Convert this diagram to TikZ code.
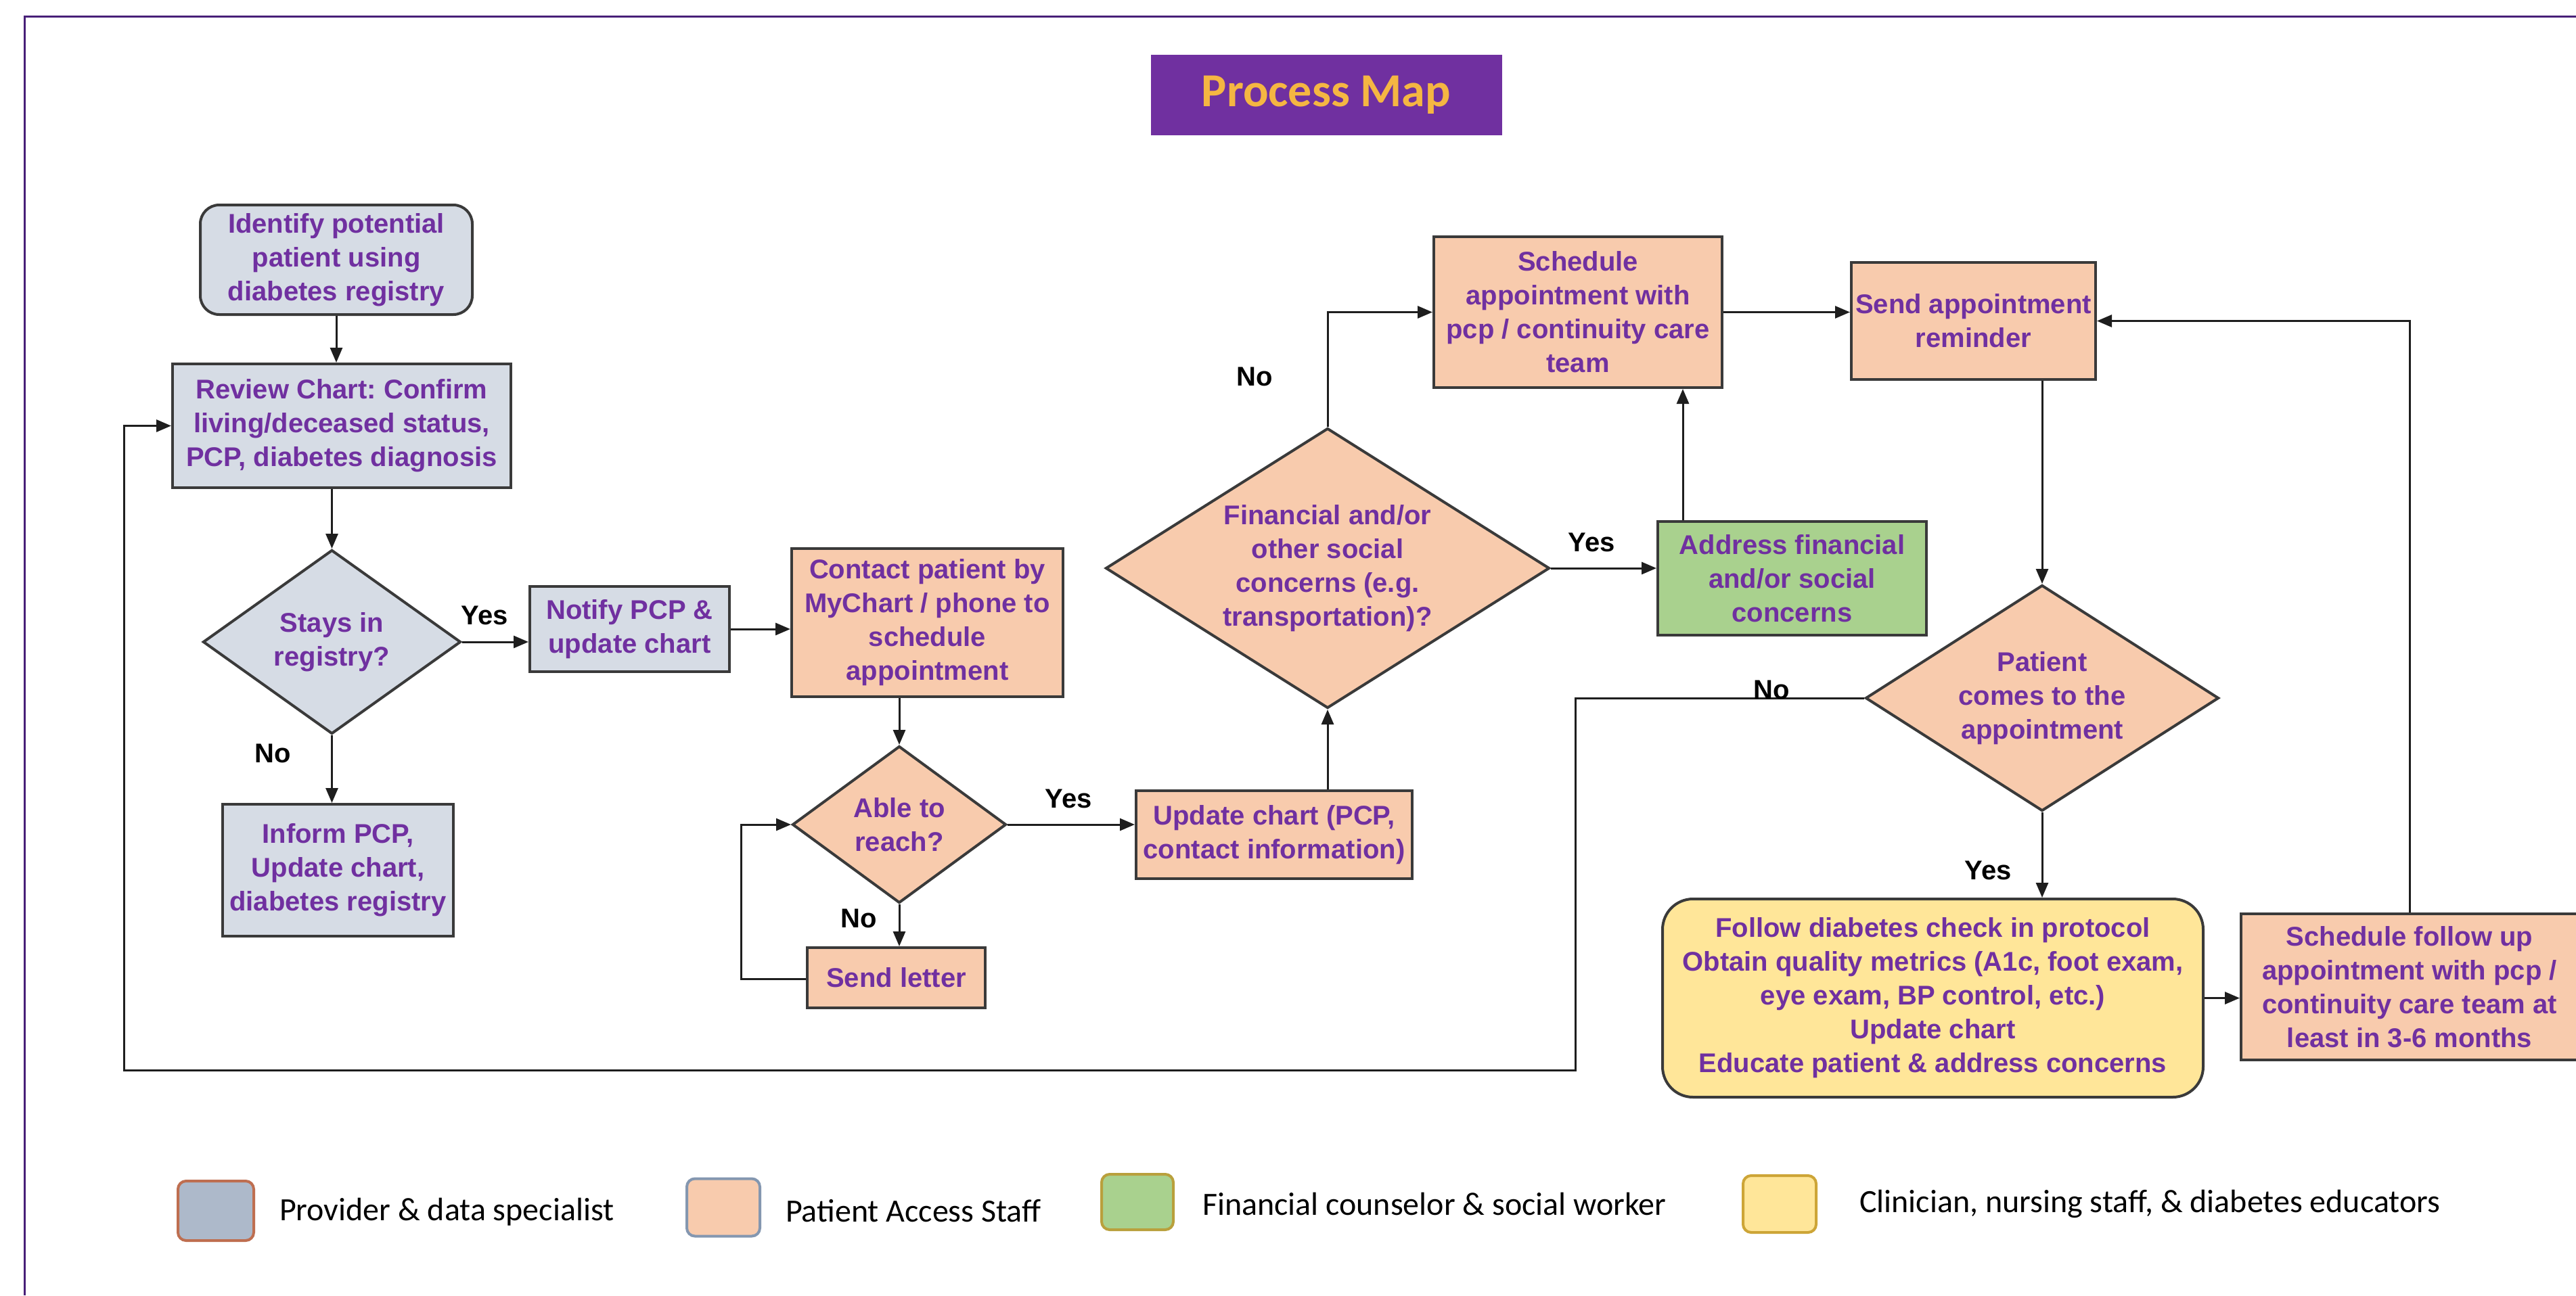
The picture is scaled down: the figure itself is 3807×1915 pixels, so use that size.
\documentclass[tikz,border=0pt]{standalone}
\usepackage{fontspec}
\setmainfont{Liberation Sans}
\newfontfamily\calib{Carlito}
\usetikzlibrary{shapes.geometric,arrows.meta}
\definecolor{txtpurple}{RGB}{112,48,160}
\definecolor{grayfill}{RGB}{214,220,229}
\definecolor{peach}{RGB}{248,203,173}
\definecolor{greenfill}{RGB}{169,209,142}
\definecolor{yellowfill}{RGB}{255,230,153}
\definecolor{bordc}{RGB}{58,58,58}
\definecolor{linec}{RGB}{30,30,30}
\definecolor{titlepurple}{RGB}{112,48,160}
\definecolor{titlegold}{RGB}{245,182,66}
\definecolor{framec}{RGB}{72,32,120}
\definecolor{lg1fill}{RGB}{173,185,202}
\definecolor{lg1draw}{RGB}{190,110,80}
\definecolor{lg2draw}{RGB}{132,151,176}
\definecolor{lg3draw}{RGB}{185,160,60}
\definecolor{lg4draw}{RGB}{205,165,55}
\frenchspacing
\begin{document}
\begin{tikzpicture}[x=1pt,y=-1pt,
  every node/.style={inner sep=0pt, outer sep=0pt},
  mainfont/.style={font=\fontsize{40}{50}\selectfont\bfseries},
  box/.style={mainfont, draw=bordc, line width=4pt, rectangle, align=center, text=txtpurple, outer sep=2pt},
  gbox/.style={box, fill=grayfill},
  pbox/.style={box, fill=peach},
  gnbox/.style={box, fill=greenfill},
  ybox/.style={box, fill=yellowfill, rounded corners=45pt},
  dia/.style={diamond, draw=bordc, line width=4pt, inner sep=0pt, outer sep=2pt},
  dtext/.style={mainfont, text=txtpurple, align=center},
  lab/.style={mainfont, text=black},
  arr/.style={draw=linec, line width=3pt, -{Triangle[length=22pt,width=18pt]}},
  swatch/.style={rounded corners=12pt, line width=4pt},
  legtext/.style={font=\calib\fontsize{48}{56}\selectfont, text=black, anchor=west}
]
\useasboundingbox (0,0) rectangle (3807,1915);
\fill[white] (0,0) rectangle (3807,1915);
% frame
\draw[framec, line width=3pt] (36,1915) -- (36,24) -- (3807,24);

% title
\node[fill=titlepurple, minimum width=519pt, minimum height=119pt, font=\calib\bfseries\fontsize{70}{80}\selectfont, text=titlegold] (title) at (1960,140) {Process Map};

% nodes
\node[gbox, fill=grayfill, rounded corners=28pt, minimum width=402pt, minimum height=162pt] (ident) at (497,384) {Identify potential\\patient using\\diabetes registry};
\node[gbox, minimum width=500pt, minimum height=183pt] (review) at (505,629.5) {Review Chart: Confirm\\living/deceased status,\\PCP, diabetes diagnosis};
\node[dia, fill=grayfill, minimum width=381pt, minimum height=272pt] (stays) at (490.5,949) {};
\node[dtext] (stays-t) at (stays) {Stays in\\registry?};
\node[gbox, minimum width=295pt, minimum height=126pt] (notify) at (930.5,930) {Notify PCP \&\\update chart};
\node[gbox, minimum width=341pt, minimum height=195pt] (inform) at (499.5,1286.5) {Inform PCP,\\Update chart,\\diabetes registry};
\node[pbox, minimum width=401pt, minimum height=219pt] (contact) at (1370.5,920.5) {Contact patient by\\MyChart / phone to\\schedule\\appointment};
\node[dia, fill=peach, minimum width=316pt, minimum height=232pt] (able) at (1329,1219) {};
\node[dtext] (able-t) at (able) {Able to\\reach?};
\node[pbox, minimum width=263pt, minimum height=89pt] (letter) at (1324.5,1445.5) {Send letter};
\node[pbox, minimum width=408pt, minimum height=130pt] (update) at (1883,1234) {Update chart (PCP,\\contact information)};
\node[dia, fill=peach, minimum width=656pt, minimum height=414pt] (fin) at (1962,840) {};
\node[dtext] (fin-t) at (fin) {Financial and/or\\other social\\concerns (e.g.\\transportation)?};
\node[pbox, minimum width=426pt, minimum height=223pt] (sched) at (2332,461.5) {Schedule\\appointment with\\pcp / continuity care\\team};
\node[gnbox, minimum width=397pt, minimum height=168pt] (addr) at (2648.5,855) {Address financial\\and/or social\\concerns};
\node[pbox, minimum width=361pt, minimum height=173pt] (send) at (2916.5,474.5) {Send appointment\\reminder};
\node[dia, fill=peach, minimum width=522pt, minimum height=334pt] (pat) at (3018,1032) {};
\node[dtext] (pat-t) at (pat) {Patient\\comes to the\\appointment};
\node[ybox, minimum width=799pt, minimum height=293pt] (follow) at (2856.5,1475.5) {Follow diabetes check in protocol\\Obtain quality metrics (A1c, foot exam,\\eye exam, BP control, etc.)\\Update chart\\Educate patient \& address concerns};
\node[pbox, minimum width=498pt, minimum height=216pt] (fu) at (3561,1459) {Schedule follow up\\appointment with pcp /\\continuity care team at\\least in 3-6 months};

% connectors
\draw[arr] (ident.south) -- (ident.south |- review.north);
\draw[arr] (stays.north |- review.south) -- (stays.north);
\draw[arr] (stays.east) -- (stays.east -| notify.west);
\draw[arr] (stays.south) -- (stays.south |- inform.north);
\draw[arr] (notify.east) -- (notify.east -| contact.west);
\draw[arr] (able.north |- contact.south) -- (able.north);
\draw[arr] (able.east) -- (able.east -| update.west);
\draw[arr] (able.south) -- (able.south |- letter.north);
\coordinate (lp) at (1095,1447);
\draw[arr] (letter.west |- lp) -- (lp) |- (able.west);
\draw[arr] (fin.south |- update.north) -- (fin.south);
\draw[arr] (fin.north) |- (sched.west);
\draw[arr] (fin.east) -- (fin.east -| addr.west);
\draw[arr] ([xshift=39pt]addr.north west) -- ([xshift=39pt]addr.north west |- sched.south);
\draw[arr] (sched.east) -- (sched.east -| send.west);
\draw[arr] (pat.north |- send.south) -- (pat.north);
\draw[arr] (pat.south) -- (pat.south |- follow.north);
\draw[arr] (follow.east) -- (follow.east -| fu.west);
\draw[arr] (fu.north) |- (send.east);
\coordinate (nb) at (2328,1582);
\coordinate (nl) at (183,1582);
\draw[arr] (pat.west) -| (nb) -- (nl) |- (review.west);

% labels
\node[lab] (y1) at (716,910) {Yes};
\node[lab] (n1) at (403,1114) {No};
\node[lab] (y2) at (1579,1181) {Yes};
\node[lab] (n2) at (1269,1358) {No};
\node[lab] (n3) at (1854,557) {No};
\node[lab] (y3) at (2352,802) {Yes};
\node[lab] (n4) at (2618,1020) {No};
\node[lab] (y4) at (2938,1287) {Yes};

% legend
\node[swatch, fill=lg1fill, draw=lg1draw, minimum width=112pt, minimum height=88pt] (sw1) at (319,1790) {};
\node[legtext] (t1) at (413,1792) {Provider \& data specialist};
\node[swatch, fill=peach, draw=lg2draw, minimum width=108pt, minimum height=85pt] (sw2) at (1069,1785) {};
\node[legtext] (t2) at (1161,1790) {Patient Access Staff};
\node[swatch, fill=greenfill, draw=lg3draw, minimum width=106pt, minimum height=82pt] (sw3) at (1681,1777) {};
\node[legtext] (t3) at (1777,1780) {Financial counselor \& social worker};
\node[swatch, fill=yellowfill, draw=lg4draw, minimum width=108pt, minimum height=84pt] (sw4) at (2630,1780) {};
\node[legtext] (t4) at (2748,1780) {Clinician, nursing staff, \& diabetes educators};
\end{tikzpicture}
\end{document}
